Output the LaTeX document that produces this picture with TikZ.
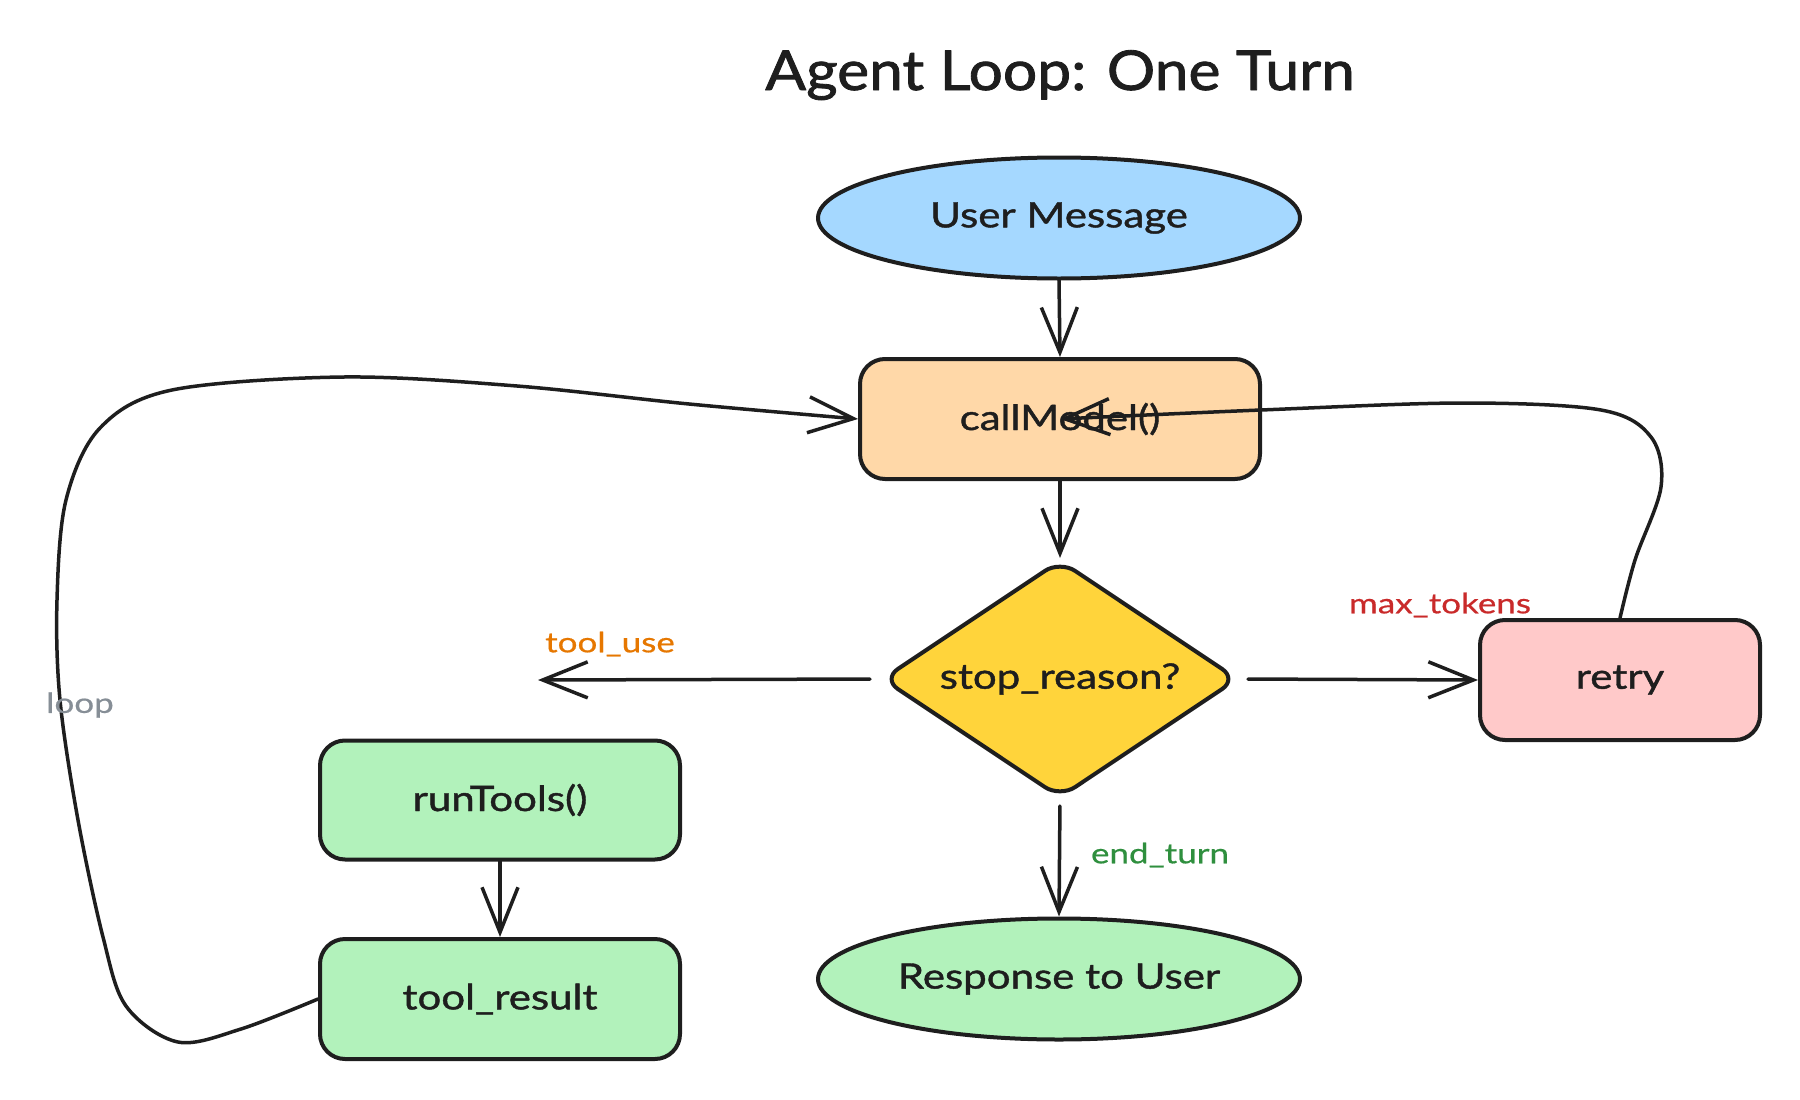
\documentclass[tikz,border=0pt]{standalone}
\usepackage{fontspec}
\usetikzlibrary{shapes.geometric,arrows.meta}
\setmainfont{Lato}
\newfontfamily\handfont[FakeStretch=1.2,FakeBold=1.2]{Lato}
\newfontfamily\labelfont[FakeStretch=1.25,FakeBold=0.6]{Lato}
\newfontfamily\titlefont[FakeStretch=1.1,FakeBold=1.5]{Lato}
\definecolor{ink}{HTML}{1E1E1E}
\definecolor{fblue}{HTML}{A5D8FF}
\definecolor{forange}{HTML}{FFD8A8}
\definecolor{fyellow}{HTML}{FFD43B}
\definecolor{fred}{HTML}{FFC9C9}
\definecolor{fgreen}{HTML}{B2F2BB}
\definecolor{torange}{HTML}{E67700}
\definecolor{tred}{HTML}{C92A2A}
\definecolor{tgreen}{HTML}{2F8F3E}
\definecolor{tgray}{HTML}{868E96}
\begin{document}
\begin{tikzpicture}[x=1pt,y=-1pt,line cap=round,line join=round,
  nodetext/.style={font=\handfont\fontsize{35}{42}\selectfont,text=ink},
  labeltext/.style={font=\labelfont\fontsize{28}{34}\selectfont},
  boxnode/.style={nodetext,draw=ink,line width=4pt,rounded corners=25pt,
    minimum width=#1,minimum height=120pt,inner sep=0pt},
  ellnode/.style={nodetext,draw=ink,line width=4pt,ellipse,
    minimum width=482pt,minimum height=121pt,inner sep=0pt},
  dianode/.style={draw=ink,line width=4pt,diamond,rounded corners=18pt,
    minimum width=356pt,minimum height=238pt,inner sep=0pt},
  conn/.style={draw=ink,line width=3.5pt,-{Straight Barb[length=45pt,width=36pt]}}]
\useasboundingbox (0,0) rectangle (1800,1100);

\node[font=\titlefont\fontsize{55}{66}\selectfont,text=ink,anchor=base] (title) at (1060,90) {Agent Loop: One Turn};

\node[ellnode,fill=fblue] (um) at (1059,218) {User Message};
\node[boxnode=400pt,fill=forange] (cm) at (1060,419) {callModel()};
\node[dianode,fill=fyellow] (dia) at (1060,679) {};
\node[nodetext] (diat) at (dia.center) {stop\_reason?};
\node[boxnode=280pt,fill=fred] (rt) at (1620,680) {retry};
\node[boxnode=360pt,fill=fgreen,minimum height=119pt] (run) at (500,800) {runTools()};
\node[boxnode=360pt,fill=fgreen] (tr) at (500,999) {tool\_result};
\node[ellnode,fill=fgreen] (resp) at (1059,979) {Response to User};

\coordinate (tu) at (538,680);

\draw[conn] (um.south) -- (cm.north);
\draw[conn] (cm.south) -- (dia.north);
\draw[conn,shorten <=10pt] (dia.west) -- (tu);
\draw[conn,shorten <=8pt] (dia.east) -- (rt.west);
\draw[conn,shorten <=6pt] (dia.south) -- (resp.north);
\draw[conn] (run.south) -- (tr.north);

\draw[conn] plot[smooth,tension=0.55] coordinates {(tr.west) (241,1029) (178,1042) (126,1006) (103,937) (78,820) (60,700) (57,600) (66,500) (100,428) (172,390) (344,377) (517,386) (689,404) (cm.west)};
\draw[conn] plot[smooth,tension=0.55] coordinates {(rt.north) (1635,560) (1661,487) (1651,437) (1601,410) (1463,403) (1261,410) (cm.center)};

\node[labeltext,text=torange] (ltu) at (610,644) {tool\_use};
\node[labeltext,text=tred] (lmt) at (1440,605) {max\_tokens};
\node[labeltext,text=tgreen] (let) at (1160,855) {end\_turn};
\node[labeltext,text=tgray] (llp) at (80,705) {loop};
\end{tikzpicture}
\end{document}
